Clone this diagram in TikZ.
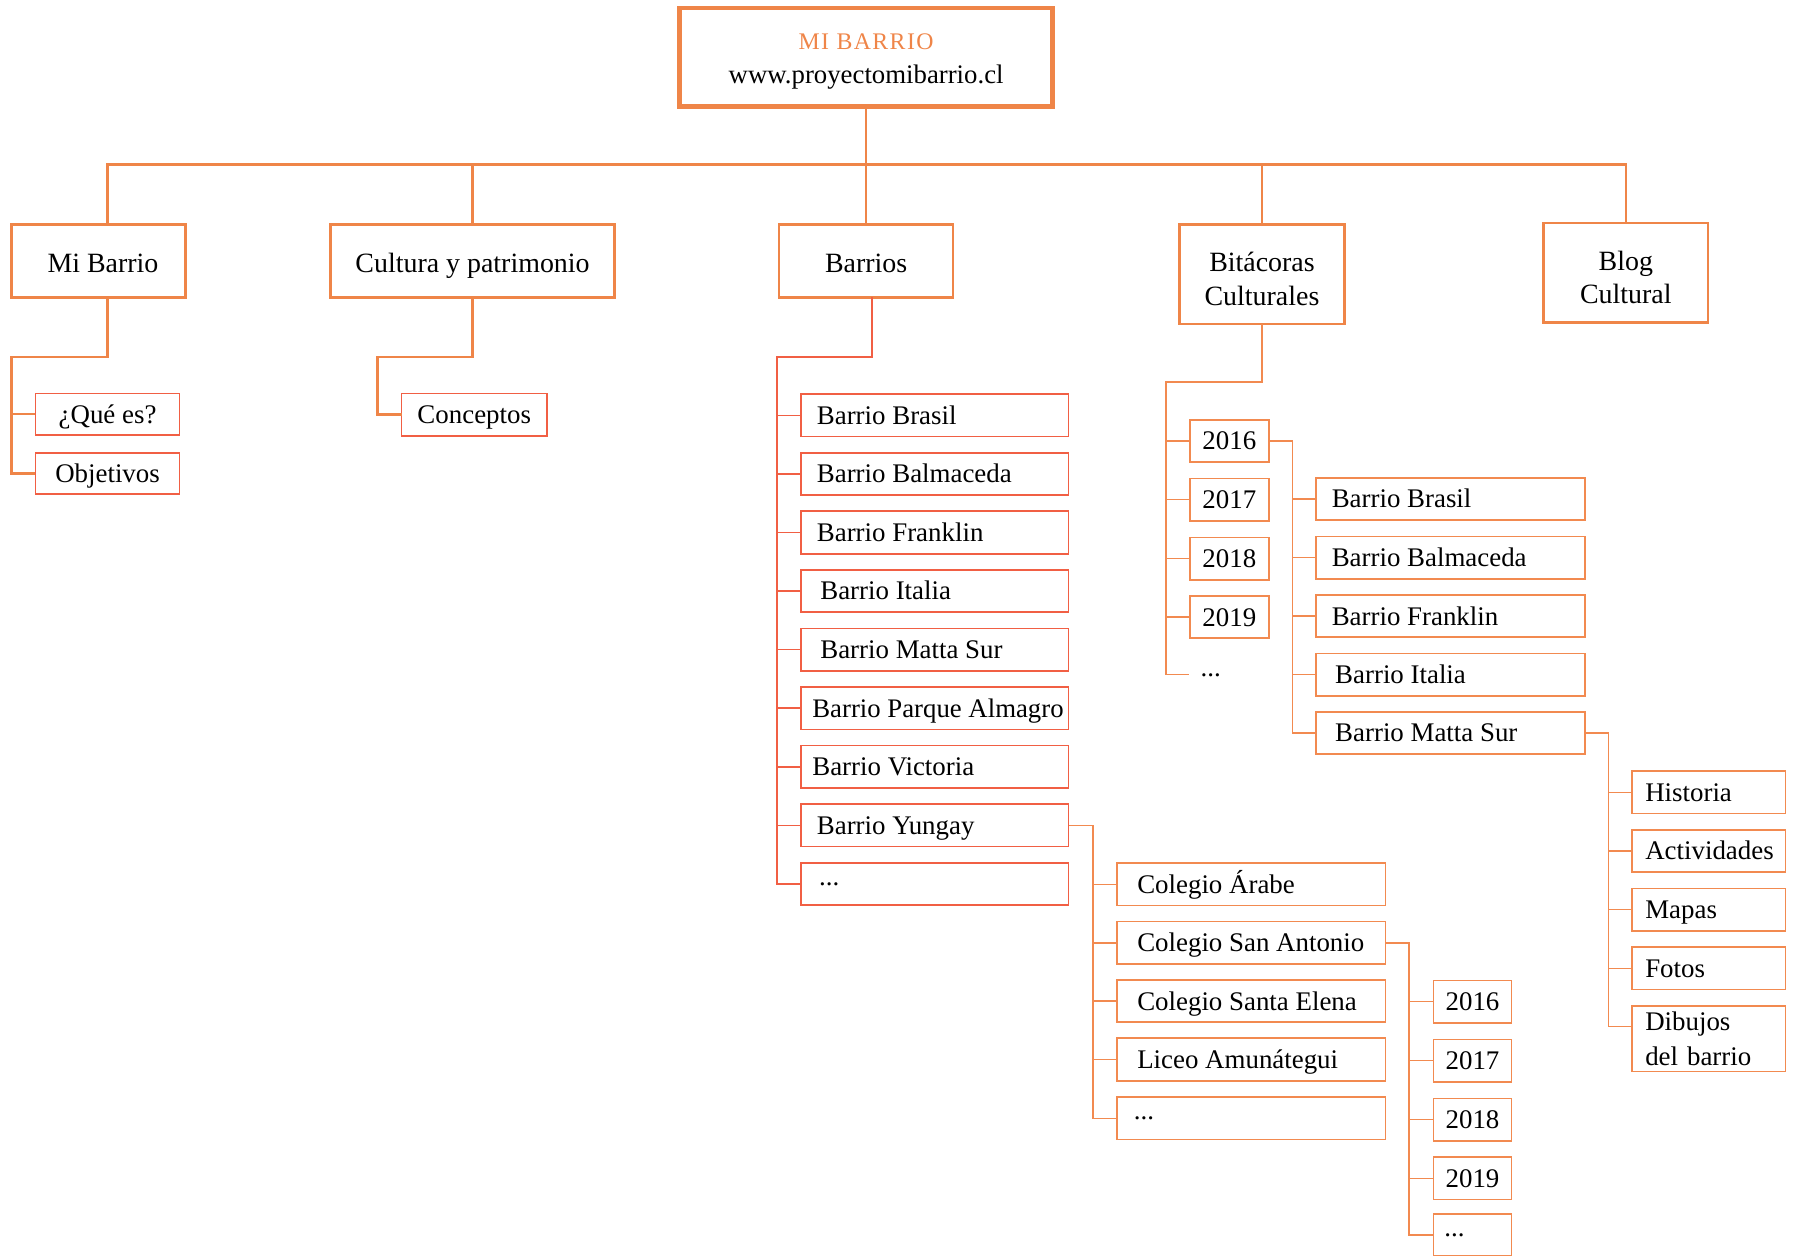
\documentclass[tikz,border=0pt]{standalone}
\usepackage{fontspec}
\setmainfont{Liberation Serif}
\usetikzlibrary{calc}
\definecolor{topC}{HTML}{EF8548}
\definecolor{redC}{HTML}{F15F44}
\definecolor{orC}{HTML}{F28A50}
\newcommand\fS{\fontsize{11.75}{13}\selectfont}
\newcommand\fL{\fontsize{12.2}{13.5}\selectfont}
\newcommand\fU{\fontsize{11.7}{15}\selectfont}
\newcommand\lt[2]{\makebox[#1][l]{#2}}
\begin{document}
\begin{tikzpicture}[x=0.5pt,y=-0.5pt,
  l1box/.style={draw=topC, line width=1.1pt, outer sep=0pt, inner sep=0pt, align=center, font=\fL},
  sbox/.style={draw=#1, line width=0.75pt, outer sep=0pt, inner ysep=0pt, anchor=west,
     minimum height=18.5pt, text height=7.8pt, text depth=0pt, font=\fS},
  sbox/.default=orC,
  pad/.style={inner xsep=#1},
  dots/.style={text height=1.2pt, text depth=0pt},
  l1line/.style={draw=topC, line width=1.1pt},
  sline/.style={draw=orC, line width=0.65pt},
  rline/.style={draw=redC, line width=0.65pt}]
\useasboundingbox (0,0) rectangle (1568,1097);
\clip (0,0) rectangle (1568,1097);

% top
\node[draw=topC, line width=1.95pt, minimum width=163pt, minimum height=43pt, inner sep=0pt,
  outer sep=0pt, align=center, font=\fU] (top) at (757,50)
  {{\color{topC}\fontsize{10.4}{15}\selectfont\addfontfeatures{LetterSpace=6}\rule{0pt}{10.4pt}MI BARRIO}\\ www.proyectomibarrio.cl};

% level 1
\node[l1box, minimum width=76pt, minimum height=32pt, text height=10.3pt, text depth=0pt] (mb) at (86,228) {\hspace*{4pt}Mi Barrio};
\node[l1box, minimum width=124pt, minimum height=32pt, text height=10.3pt, text depth=0pt] (cp) at (413,228) {Cultura y patrimonio};
\node[l1box, minimum width=76pt, minimum height=32pt, text height=10.3pt, text depth=0pt] (ba) at (757,228) {Barrios};
\node[l1box, minimum width=72pt, minimum height=43.5pt, font=\fontsize{12.2}{15}\selectfont] (bc) at (1103,239.5) {\rule{0pt}{13pt}Bitácoras\\Culturales};
\node[l1box, minimum width=72pt, minimum height=43.5pt, font=\fontsize{12.2}{14.5}\selectfont] (bl) at (1421,238.5) {\rule{0pt}{12.3pt}Blog\\Cultural};

\coordinate (hub) at (757,144);
\draw[l1line] (top.south) -- (hub);
\draw[l1line] ([xshift=4pt]mb.north) |- (hub) -| (bl.north);
\draw[l1line] (cp.north) -- (cp.north |- hub);
\draw[l1line] (ba.north) -- (ba.north |- hub);
\draw[l1line] (bc.north) -- (bc.north |- hub);

% Mi Barrio children
\node[sbox=redC, minimum width=63pt, minimum height=18pt] (qe) at (31,362) {¿Qué es?};
\node[sbox=redC, minimum width=63pt, minimum height=18pt] (ob) at (31,414) {Objetivos};
\coordinate (mbv) at (10,312);
\draw[l1line] ([xshift=4pt]mb.south) |- (mbv) |- (ob.west);
\draw[l1line] (qe.west) -- (qe.west -| mbv);

% Cultura children
\node[sbox=redC, minimum width=63.5pt] (co) at (351,362.5) {Conceptos};
\coordinate (cpv) at (330,312);
\draw[l1line] (cp.south) |- (cpv) |- (co.west);

% Barrios list
\node[sbox=redC, pad=7pt] (b1) at (700,363) {\lt{103pt}{Barrio Brasil}};
\node[sbox=redC, pad=7pt] (b2) at (700,414.2) {\lt{103pt}{Barrio Balmaceda}};
\node[sbox=redC, pad=7pt] (b3) at (700,465.4) {\lt{103pt}{Barrio Franklin}};
\node[sbox=redC, pad=8.5pt] (b4) at (700,516.6) {\lt{100pt}{Barrio Italia}};
\node[sbox=redC, pad=8.5pt] (b5) at (700,567.8) {\lt{100pt}{Barrio Matta Sur}};
\node[sbox=redC, pad=5pt] (b6) at (700,619) {\lt{107pt}{\fontsize{11.7}{13}\selectfont Barrio Parque Almagro}};
\node[sbox=redC, pad=5pt] (b7) at (700,670.2) {\lt{107pt}{Barrio Victoria}};
\node[sbox=redC, pad=7pt] (b8) at (700,721.4) {\lt{103pt}{Barrio Yungay}};
\node[sbox=redC, dots, pad=8pt] (b9) at (700,772.6) {\lt{101pt}{...}};
\coordinate (bav) at (679,312);
\draw[rline] ([xshift=2.5pt]ba.south) |- (bav) |- (b9.west);
\foreach \k in {1,...,8} \draw[rline] (b\k.west) -- (b\k.west -| bav);

% Yungay children
\node[sbox, pad=9pt] (c1) at (976,773) {\lt{99.5pt}{Colegio Árabe}};
\node[sbox, pad=9pt] (c2) at (976,824) {\lt{99.5pt}{Colegio San Antonio}};
\node[sbox, pad=9pt] (c3) at (976,875) {\lt{99.5pt}{Colegio Santa Elena}};
\node[sbox, pad=9pt] (c4) at (976,926) {\lt{99.5pt}{Liceo Amunátegui}};
\node[sbox, dots, pad=7.5pt] (c5) at (976,977.5) {\lt{102.5pt}{...}};
\coordinate (yv) at (955.5,722);
\draw[sline] (b8.east) -| (yv |- c5.west) -- (c5.west);
\foreach \k in {1,...,4} \draw[sline] (c\k.west) -- (c\k.west -| yv);

% San Antonio years
\node[sbox, minimum width=34pt] (y1) at (1253,875.5) {2016};
\node[sbox, minimum width=34pt] (y2) at (1253,927) {2017};
\node[sbox, minimum width=34pt] (y3) at (1253,978.5) {2018};
\node[sbox, minimum width=34pt] (y4) at (1253,1030) {2019};
\node[sbox, dots, pad=4.75pt] (y5) at (1253,1079.5) {\lt{24.5pt}{...}};
\coordinate (sv) at (1231.5,824);
\draw[sline] (c2.east) -| (sv |- y5.west) -- (y5.west);
\foreach \k in {1,...,4} \draw[sline] (y\k.west) -- (y\k.west -| sv);

% Bitacoras years
\node[sbox, minimum width=34.5pt] (t1) at (1040,385.5) {2016};
\node[sbox, minimum width=34.5pt] (t2) at (1040,436.7) {2017};
\node[sbox, minimum width=34.5pt] (t3) at (1040,488.3) {2018};
\node[sbox, minimum width=34.5pt] (t4) at (1040,539.4) {2019};
\node[anchor=west, inner sep=0pt, outer sep=0pt, font=\fS, dots] (bd) at (1049.4,589.7) {...};
\coordinate (bcv) at (1019,334);
\draw[sline] (bc.south) |- (bcv) |- ([xshift=-5pt]bd.west);
\foreach \k in {1,...,4} \draw[sline] (t\k.west) -- (t\k.west -| bcv);

% 2016 children
\node[sbox, pad=7pt] (m1) at (1150,436) {\lt{103.5pt}{Barrio Brasil}};
\node[sbox, pad=7pt] (m2) at (1150,487.3) {\lt{103.5pt}{Barrio Balmaceda}};
\node[sbox, pad=7pt] (m3) at (1150,538.5) {\lt{103.5pt}{Barrio Franklin}};
\node[sbox, pad=8.5pt] (m4) at (1150,589.7) {\lt{100.5pt}{Barrio Italia}};
\node[sbox, pad=8.5pt] (m5) at (1150,640.6) {\lt{100.5pt}{Barrio Matta Sur}};
\coordinate (tv) at (1129.5,385.5);
\draw[sline] (t1.east) -| (tv |- m5.west) -- (m5.west);
\foreach \k in {1,...,4} \draw[sline] (m\k.west) -- (m\k.west -| tv);

% Matta Sur children
\node[sbox, pad=5.75pt] (h1) at (1426.5,692.5) {\lt{55.5pt}{Historia}};
\node[sbox, pad=5.75pt] (h2) at (1426.5,743.8) {\lt{55.5pt}{Actividades}};
\node[sbox, pad=5.75pt] (h3) at (1426.5,795.1) {\lt{55.5pt}{Mapas}};
\node[sbox, pad=5.75pt] (h4) at (1426.5,846.4) {\lt{55.5pt}{Fotos}};
\node[sbox, pad=5.75pt, text width=55.5pt, align=left, minimum height=28.5pt, text height=7.8pt, text depth=15.3pt,
  font=\fontsize{11.75}{15.3}\selectfont] (dj) at (1426.5,908) {Dibujos\\del barrio};
\coordinate (msv) at (1406,640.6);
\coordinate (djb) at ([yshift=5.5pt]dj.west);
\draw[sline] (m5.east) -| (msv |- djb) -- (djb);
\foreach \k in {1,...,4} \draw[sline] (h\k.west) -- (h\k.west -| msv);
\end{tikzpicture}
\end{document}
